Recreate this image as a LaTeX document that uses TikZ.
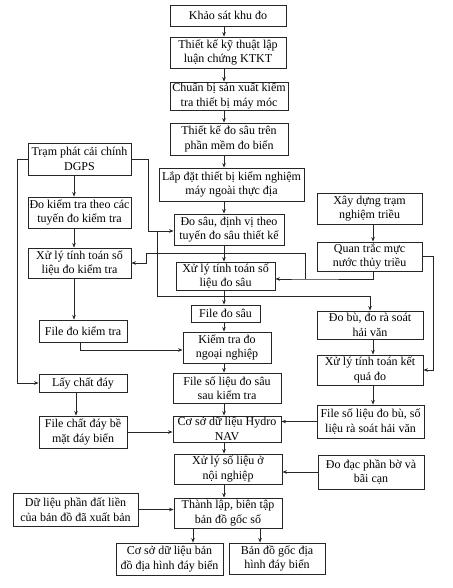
\documentclass[tikz,border=0pt]{standalone}
\usepackage{fontspec}
\setmainfont{Liberation Serif}
\usetikzlibrary{arrows.meta,calc}
\tikzset{
  box/.style={draw=black!85, line width=0.9pt, align=center, inner sep=1pt,
    font=\fontsize{12}{14.5}\selectfont},
  sz/.style 2 args={minimum width=#1, minimum height=#2},
  arr/.style={draw=black!85, line width=0.8pt, -{Stealth[length=4.5pt,width=3.5pt]}},
  ln/.style={draw=black!85, line width=0.8pt}
}
\begin{document}
\begin{tikzpicture}[x=1pt,y=-1pt]
\fill[white] (0,0) rectangle (452,588);
\useasboundingbox (0,0) rectangle (452,588);
% main column
\node[box,sz={116pt}{21pt}] (kh) at (228,15.5) {Khảo sát khu đo};
\node[box,sz={116pt}{31pt}] (tk) at (228,52.5) {Thiết kế kỹ thuật lập\\luận chứng KTKT};
\node[box,sz={118pt}{28pt}] (cb) at (229,96) {Chuẩn bị sản xuất kiểm\\tra thiết bị máy móc};
\node[box,sz={118pt}{32pt}] (tkds) at (229,139) {Thiết kế đo sâu trên\\phần mềm đo biển};
\node[box,sz={145pt}{33pt}] (ld) at (231.5,184.5) {Lắp đặt thiết bị kiểm nghiệm\\máy ngoài thực địa};
\node[box,sz={110pt}{31pt}] (ds) at (229,229.5) {Đo sâu, định vị theo\\tuyến đo sâu thiết kế};
\node[box,sz={99pt}{28pt}] (xlds) at (225.5,276) {Xử lý tính toán số\\liệu đo sâu};
\node[box,sz={69pt}{17pt}] (fds) at (225.5,313.5) {File đo sâu};
\node[box,sz={88pt}{31pt}] (kt) at (227,347.5) {Kiểm tra đo\\ngoại nghiệp};
\node[box,sz={108pt}{30pt}] (fsl) at (227,388) {File số liệu đo sâu\\sau kiểm tra};
\node[box,sz={108pt}{26pt}] (csdl) at (227,429) {Cơ sở dữ liệu Hydro\\NAV};
\node[box,sz={108pt}{30pt}] (xlnn) at (228,469) {Xử lý số liệu ở\\nội nghiệp};
\node[box,sz={108pt}{30pt}] (tl) at (228,513) {Thành lập, biên tập\\bản đồ gốc số};
\node[box,sz={107pt}{32pt}] (csbd) at (169.5,559) {Cơ sở dữ liệu bản\\đồ địa hình đáy biển};
\node[box,sz={96pt}{31pt}] (bdg) at (277,558.5) {Bản đồ gốc địa\\hình đáy biển};
% left column
\node[box,sz={103pt}{32pt}] (dgps) at (79.5,159) {Trạm phát cải chính\\DGPS};
\node[box,sz={103pt}{31pt}] (dkt) at (79.5,212.5) {Đo kiểm tra theo các\\tuyến đo kiểm tra};
\node[box,sz={103pt}{30pt}] (xlkt) at (79.5,263) {Xử lý tính toán số\\liệu đo kiểm tra};
\node[box,sz={88pt}{22pt}] (fkt) at (83,331) {File đo kiểm tra};
\node[box,sz={88pt}{18pt}] (lcd) at (83,383) {Lấy chất đáy};
\node[box,sz={88pt}{32pt}] (fcd) at (83,432) {File chất đáy bề\\mặt đáy biển};
\node[box,sz={125pt}{33pt}] (dl) at (75.5,509.5) {Dữ liệu phần đất liền\\của bản đồ đã xuất bản};
% right column
\node[box,sz={105pt}{31pt}] (xdt) at (369.5,208.5) {Xây dựng trạm\\nghiệm triều};
\node[box,sz={105pt}{29pt}] (qt) at (369.5,256.5) {Quan trắc mực\\nước thủy triều};
\node[box,sz={106pt}{28pt}] (db) at (370,325) {Đo bù, đo rà soát\\hải văn};
\node[box,sz={106pt}{30pt}] (xlkq) at (370,370) {Xử lý tính toán kết\\quả đo};
\node[box,sz={107pt}{33pt}] (fdb) at (370.5,421.5) {File số liệu đo bù, số\\liệu rà soát hải văn};
\node[box,sz={106pt}{34pt}] (dd) at (371,472) {Đo đạc phần bờ và\\bãi cạn};
% column coordinates
\coordinate (mx) at (224,0);
\coordinate (lx) at (74,0);
\coordinate (lx2) at (76,0);
\coordinate (rx) at (373,0);
\coordinate (b1) at (193,0);
\coordinate (b2) at (260,0);
% main chain
\foreach \a/\b in {kh/tk,tk/cb,cb/tkds,tkds/ld,ld/ds,ds/xlds,xlds/fds,fds/kt,kt/fsl,fsl/csdl,csdl/xlnn,xlnn/tl}
  \draw[arr] (mx |- \a.south) -- (mx |- \b.north);
\draw[arr] (b1 |- tl.south) -- (b1 |- csbd.north);
\draw[arr] (b2 |- tl.south) -- (b2 |- bdg.north);
% left chain
\foreach \a/\b in {dgps/dkt,dkt/xlkt,xlkt/fkt}
  \draw[arr] (lx |- \a.south) -- (lx |- \b.north);
\draw[arr] (lx2 |- lcd.south) -- (lx2 |- fcd.north);
% right chain
\foreach \a/\b in {xdt/qt,db/xlkq,xlkq/fdb}
  \draw[arr] (rx |- \a.south) -- (rx |- \b.north);
% DGPS left to Lay chat day
\coordinate (lw) at (17,383);
\draw[arr] (dgps.west) -| (lw) -- (lw -| lcd.west);
% DGPS right to Do sau
\coordinate (dr) at (148,231);
\draw[arr] (dgps.east) -| (dr) -- (dr -| ds.west);
% branch to Do bu
\coordinate (br) at (157,296);
\draw[arr] (br |- dr) -- (br) -| (db.north);
% tide to processing boxes
\coordinate (t1) at (305,279);
\coordinate (t2) at (146,253);
\draw[arr] (rx |- qt.south) |- (t1) -- (t1 -| xlds.east);
\draw[arr] (t1) |- (t2) |- (xlkt.east);
% tide right to Xu ly ket qua
\coordinate (qr) at (433,0);
\draw[arr] (qt.east) -| (qr |- xlkq.east) -- (xlkq.east);
% file do kiem tra to kiem tra
\coordinate (fk) at (80,350);
\draw[arr] (fk |- fkt.south) -- (fk) -- (fk -| kt.west);
% horizontal arrows
\draw[arr] (fcd.east) -- (fcd.east -| csdl.west);
\draw[arr] (fdb.west) -- (fdb.west -| csdl.east);
\draw[arr] (dd.west) -- (dd.west -| xlnn.east);
\draw[arr] (dl.east) -- (dl.east -| tl.west);
\end{tikzpicture}
\end{document}
